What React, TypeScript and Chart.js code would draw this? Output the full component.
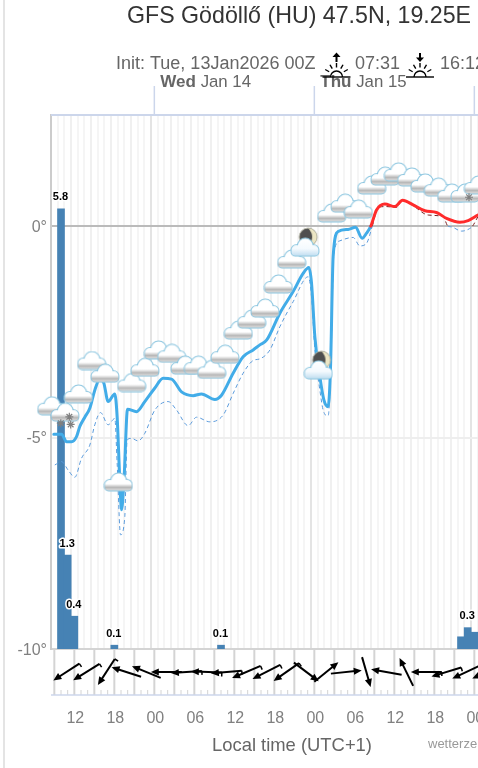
import React, { useEffect, useRef } from "react";
import { Chart, registerables } from "chart.js";
Chart.register(...registerables);

const FONT = '"Liberation Sans", Arial, sans-serif';

const tempHours = [-15.08,-13.92,-13.17,-12.42,-11.67,-11.18,-10.43,-9.68,-8.93,-8.18,-7.58,-6.93,-5.93,-5.58,-5.18,-4.92,-4.53,-4.02,-2.67,-1.43,0.08,1.32,2.58,4.08,5.82,7.08,9.08,10.08,11.82,13.32,14.82,15.83,16.83,18.83,20.82,22.32,23.18,23.58,24.08,24.83,25.43,26.07,26.43,26.82,27.57,29.07,30.18,31.17,31.83,32.47,33.33,34.58,36.08,37.23,38.82,40.58,42.33,43.83,45.83,47.07,48.53];
const tempValues = [-4.92,-4.92,-5.10,-5.10,-4.98,-4.74,-4.52,-4.31,-3.88,-3.62,-3.71,-4.15,-3.97,-4.51,-6.00,-6.71,-5.93,-4.33,-4.39,-4.15,-3.83,-3.60,-3.62,-3.92,-4.01,-3.97,-4.10,-4.00,-3.48,-3.09,-2.93,-2.81,-2.70,-2.06,-1.55,-1.12,-0.98,-1.35,-2.62,-3.56,-4.11,-4.27,-3.33,-0.73,-0.13,-0.08,-0.03,-0.29,-0.17,0,0.38,0.52,0.46,0.61,0.50,0.36,0.32,0.18,0.09,0.13,0.26];

const lowHours = [-14.93,-13.92,-12.93,-11.93,-10.92,-9.68,-8.93,-8.07,-6.93,-5.93,-5.58,-5.07,-4.43,-4.08,-3.42,-2.43,-1.43,0.08,2.07,3.33,5.07,6.33,8.33,10.32,11.82,13.32,14.82,15.83,17.33,18.83,20.82,23.07,23.58,24.08,24.83,25.32,26.07,26.43,26.93,27.83,29.82,30.83,31.83,32.7,33.57,34.83,36.33,37.23,38.82,41.07,43.32,44.03,44.58,46.08,47.58,47.75,48.53];
const lowValues = [-5.65,-5.57,-5.77,-5.94,-5.49,-5.18,-4.70,-4.41,-4.70,-4.55,-5.60,-7.30,-6.87,-5.06,-5.02,-5.08,-4.90,-4.35,-4.15,-4.35,-4.72,-4.52,-4.63,-4.47,-3.96,-3.48,-3.18,-3.14,-2.93,-2.38,-1.79,-1.20,-1.67,-2.93,-3.88,-4.35,-4.49,-3.56,-0.65,-0.35,-0.27,-0.47,-0.41,0,0.44,0.46,0.44,0.61,0.48,0.26,0.22,0,-0.02,-0.12,-0.03,0,0.22];

const rainHours = [-14,-13,-12,-6,10,46,47,48];
const rainValues = [5.77,1.23,0.43,0.05,0.05,0.16,0.28,0.22];
const rainLabels = ["5.8","1.3","0.4","0.1","0.1","","0.3",""];

const cloudHours = [-15.4,-13.4,-11.4,-9.4,-7.4,-5.4,-3.4,-1.4,0.6,2.6,4.6,6.6,8.6,10.6,12.6,14.6,16.6,18.6,20.6,22.6,24.6,26.6,28.6,30.6,32.6,34.6,36.6,38.6,40.6,42.6,44.6,46.6,48.6];
const cloudLevels = [-4.25,-4.40,-3.97,-3.18,-3.48,-6.05,-3.70,-3.34,-2.93,-3.01,-3.29,-3.29,-3.39,-3.03,-2.46,-2.20,-1.94,-1.37,-0.78,-0.50,-3.40,0.31,0.54,0.40,0.97,1.18,1.28,1.16,1.02,0.92,0.78,0.78,0.97];
const nightCloudHours = [22.6,24.6];

const moonHours = [23.07,25.07];
const moonLevels = [-0.26,-3.17];

const snowHours = [-14.03,-12.75,-12.55,47.2];
const snowLevels = [-4.66,-4.51,-4.69,0.68];

const windHours = [-13.2,-10.2,-7.2,-4.2,-1.2,1.8,4.8,7.8,10.8,13.8,16.8,19.8,22.8,25.8,28.8,31.8,34.8,37.8,40.8,43.8,46.8,49.8];
const windAngles = [147,148,123,198,202,180,176,182,175,157,153,145,37,-39,-6,74,190,244,180,163,155,155];
const windBarbs = [1,1,1,0,0,0,1,1,1,1,1,1,0,0,0,0,0,0,1,1,0,0];

const dayHours = [0,24,48];
const dayNames = ["Wed","Thu","Fri"];
const dayDates = ["Jan 14","Jan 15","Jan 16"];

const titleText = "GFS Gödöllő (HU) 47.5N, 19.25E";
const initText = "Init: Tue, 13Jan2026 00Z";
const sunriseText = "07:31";
const sunsetText = "16:12";
const xTitleText = "Local time (UTC+1)";
const creditText = "wetterzentrale.de";

function cloudPath(g: CanvasRenderingContext2D) {
  g.beginPath();
  g.arc(6.5, 13, 5, 0, Math.PI * 2);
  g.closePath();
  g.moveTo(22.8, 9);
  g.arc(15.3, 9, 7.5, 0, Math.PI * 2);
  g.closePath();
  g.moveTo(28.5, 13);
  g.arc(23.5, 13, 5, 0, Math.PI * 2);
  g.closePath();
  g.moveTo(5, 11);
  g.roundRect(1.5, 11, 27, 7.5, 3.7);
}

function makeCloud(night: boolean) {
  const c = document.createElement("canvas");
  c.width = 30;
  c.height = 20;
  const g = c.getContext("2d")!;
  g.lineJoin = "round";
  g.strokeStyle = "#8cc6e0";
  g.lineWidth = 2;
  cloudPath(g);
  g.stroke();
  const grad = g.createLinearGradient(0, 2, 0, 18);
  if (night) {
    grad.addColorStop(0, "#ffffff");
    grad.addColorStop(0.6, "#f4fafe");
    grad.addColorStop(1, "#c6e1f2");
  } else {
    grad.addColorStop(0, "#ffffff");
    grad.addColorStop(0.62, "#ffffff");
    grad.addColorStop(0.84, "#b8b8b8");
    grad.addColorStop(1, "#d8d8d8");
  }
  g.fillStyle = grad;
  cloudPath(g);
  g.fill();
  return c;
}

function makeMoon() {
  const c = document.createElement("canvas");
  c.width = 22;
  c.height = 22;
  const g = c.getContext("2d")!;
  g.fillStyle = "#4f4f4f";
  g.beginPath();
  g.arc(11, 11, 9, 0, Math.PI * 2);
  g.fill();
  g.fillStyle = "#ece6c4";
  g.beginPath();
  g.arc(11, 11, 9, -Math.PI / 2, Math.PI / 2);
  g.quadraticCurveTo(19, 11, 11, 2);
  g.fill();
  g.strokeStyle = "#b5b5a5";
  g.lineWidth = 1;
  g.beginPath();
  g.arc(11, 11, 9, 0, Math.PI * 2);
  g.stroke();
  return c;
}

function sunIcon(ctx: CanvasRenderingContext2D, cx: number, up: boolean) {
  const base = 77;
  ctx.save();
  ctx.strokeStyle = "#000";
  ctx.fillStyle = "#000";
  ctx.lineWidth = 1.4;
  ctx.beginPath();
  ctx.moveTo(cx - 14, base);
  ctx.lineTo(cx + 14, base);
  ctx.stroke();
  ctx.beginPath();
  ctx.arc(cx, base, 6, Math.PI, 0);
  ctx.stroke();
  [-150, -120, -90, -60, -30].forEach((a) => {
    const r = (a * Math.PI) / 180;
    ctx.beginPath();
    ctx.moveTo(cx + Math.cos(r) * 8.5, base - 1 + Math.sin(r) * 8.5);
    ctx.lineTo(cx + Math.cos(r) * 13, base - 1 + Math.sin(r) * 13);
    ctx.stroke();
  });
  ctx.lineWidth = 2;
  ctx.beginPath();
  ctx.moveTo(cx, up ? 56 : 53);
  ctx.lineTo(cx, up ? 62 : 58);
  ctx.stroke();
  ctx.beginPath();
  if (up) {
    ctx.moveTo(cx, 52.5);
    ctx.lineTo(cx + 4, 57);
    ctx.lineTo(cx - 4, 57);
  } else {
    ctx.moveTo(cx, 62);
    ctx.lineTo(cx + 4, 57.5);
    ctx.lineTo(cx - 4, 57.5);
  }
  ctx.closePath();
  ctx.fill();
  ctx.restore();
}

const decorations = {
  id: "decorations",
  beforeDatasetsDraw(chart: any) {
    const { ctx, scales, chartArea } = chart;
    const x = scales.x;
    ctx.save();
    // wind strip grid
    const stripBottom = 695;
    for (let h = -15; h <= 57; h++) {
      const px = x.getPixelForValue(h);
      ctx.strokeStyle = "#d4d4d4";
      if (h % 3 === 0) {
        ctx.lineWidth = 2;
        ctx.beginPath();
        ctx.moveTo(px, chartArea.bottom);
        ctx.lineTo(px, stripBottom);
        ctx.stroke();
      } else {
        ctx.lineWidth = 1;
        ctx.beginPath();
        ctx.moveTo(px, stripBottom - 5);
        ctx.lineTo(px, stripBottom);
        ctx.stroke();
      }
    }
    ctx.strokeStyle = "#ccd6eb";
    ctx.lineWidth = 1.5;
    ctx.beginPath();
    ctx.moveTo(chartArea.left, stripBottom);
    ctx.lineTo(chartArea.right, stripBottom);
    ctx.stroke();
    // top axis
    ctx.lineWidth = 2;
    ctx.beginPath();
    ctx.moveTo(chartArea.left, chartArea.top);
    ctx.lineTo(chartArea.right, chartArea.top);
    ctx.stroke();
    ctx.lineWidth = 1.5;
    dayHours.forEach((h) => {
      const px = x.getPixelForValue(h);
      ctx.beginPath();
      ctx.moveTo(px, 86);
      ctx.lineTo(px, chartArea.top);
      ctx.stroke();
    });
    ctx.restore();
  },
  afterDraw(chart: any) {
    const { ctx, scales } = chart;
    const x = scales.x;
    ctx.save();
    // header text
    ctx.textBaseline = "middle";
    ctx.textAlign = "left";
    ctx.fillStyle = "#666666";
    ctx.font = `18px ${FONT}`;
    ctx.fillText(initText, 116, 64);
    ctx.fillText(sunriseText, 355, 64);
    ctx.fillText(sunsetText, 440, 64);
    dayHours.forEach((h, i) => {
      const px = x.getPixelForValue(h) + 6;
      ctx.fillStyle = "#666666";
      ctx.font = `bold 17px ${FONT}`;
      ctx.fillText(dayNames[i], px, 82);
      const w = ctx.measureText(dayNames[i] + " ").width;
      ctx.font = `16.8px ${FONT}`;
      ctx.fillText(dayDates[i], px + w, 82);
    });
    sunIcon(ctx, 336.5, true);
    sunIcon(ctx, 420, false);
    // credit
    ctx.fillStyle = "#999999";
    ctx.font = `13px ${FONT}`;
    ctx.fillText(creditText, 428, 744);
    // wind arrows
    const cy = 672;
    const len = 31;
    windHours.forEach((h, i) => {
      const cx = x.getPixelForValue(h);
      const a = (windAngles[i] * Math.PI) / 180;
      const ux = Math.cos(a);
      const uy = Math.sin(a);
      const tx = cx - (ux * len) / 2;
      const ty = cy - (uy * len) / 2;
      const hx = cx + (ux * len) / 2;
      const hy = cy + (uy * len) / 2;
      ctx.strokeStyle = "#000";
      ctx.fillStyle = "#000";
      ctx.lineWidth = 2;
      ctx.beginPath();
      ctx.moveTo(tx, ty);
      ctx.lineTo(hx - ux * 4, hy - uy * 4);
      ctx.stroke();
      ctx.beginPath();
      ctx.moveTo(hx, hy);
      ctx.lineTo(hx - ux * 8 - uy * 3.6, hy - uy * 8 + ux * 3.6);
      ctx.lineTo(hx - ux * 8 + uy * 3.6, hy - uy * 8 - ux * 3.6);
      ctx.closePath();
      ctx.fill();
      if (windBarbs[i]) {
        ctx.lineWidth = 1.5;
        const sign = ux < 0 ? -1 : 1;
        ctx.beginPath();
        ctx.moveTo(tx, ty);
        ctx.lineTo(tx - uy * 4 * sign, ty + ux * 4 * sign);
        ctx.stroke();
      }
    });
    // bar labels
    const meta = chart.getDatasetMeta(chart.data.datasets.findIndex((d: any) => d.label === "Precipitation"));
    ctx.font = `bold 11px ${FONT}`;
    ctx.textAlign = "center";
    ctx.lineJoin = "round";
    rainLabels.forEach((t, i) => {
      if (!t) return;
      const el = meta.data[i];
      const px = el.x - 0.5;
      const py = el.y - 11.5;
      ctx.strokeStyle = "#ffffff";
      ctx.lineWidth = 3;
      ctx.strokeText(t, px, py);
      ctx.fillStyle = "#000000";
      ctx.fillText(t, px, py);
    });
    ctx.restore();
  },
};

export default function App() {
  const ref = useRef<HTMLCanvasElement>(null);
  useEffect(() => {
    const cloud = makeCloud(false);
    const nightCloud = makeCloud(true);
    const moon = makeMoon();
    const xy = (xs: number[], ys: number[]) => xs.map((x, i) => ({ x, y: ys[i] }));
    const chart = new Chart(ref.current!, {
      type: "line",
      plugins: [decorations],
      data: {
        datasets: [
          {
            type: "line",
            label: "Snow",
            data: xy(snowHours, snowLevels),
            showLine: false,
            order: -1,
            pointRadius: 4,
            pointStyle: "star",
            borderColor: "#808080",
            borderWidth: 1.2,
          },
          {
            type: "line",
            label: "Clouds",
            data: xy(cloudHours, cloudLevels),
            showLine: false,
            order: 0,
            pointRadius: 14,
            pointStyle: (c: any) => (nightCloudHours.includes(cloudHours[c.dataIndex]) ? nightCloud : cloud),
            clip: false,
          },
          {
            type: "line",
            label: "Moon",
            data: xy(moonHours, moonLevels),
            showLine: false,
            order: 1,
            pointRadius: 10,
            pointStyle: moon,
          },
          {
            type: "line",
            label: "Temperature",
            data: xy(tempHours, tempValues),
            order: 2,
            borderWidth: 3,
            borderColor: "#42ace8",
            pointRadius: 0,
            cubicInterpolationMode: "monotone",
            borderCapStyle: "round",
            segment: {
              borderColor: (c: any) => (c.p0.parsed.y >= 0 && c.p1.parsed.y >= 0 ? "#ff2b2b" : "#42ace8"),
            },
          },
          {
            type: "line",
            label: "Dew point",
            data: xy(lowHours, lowValues),
            order: 3,
            borderWidth: 1,
            borderDash: [4, 3],
            borderColor: "#5b9bdc",
            pointRadius: 0,
            cubicInterpolationMode: "monotone",
            segment: {
              borderColor: (c: any) => (c.p0.parsed.y >= 0 && c.p1.parsed.y >= 0 ? "#7a1f1f" : "#5b9bdc"),
            },
          },
          {
            type: "bar",
            label: "Precipitation",
            data: xy(rainHours, rainValues),
            yAxisID: "yRain",
            order: 6,
            backgroundColor: "#4682b4",
            barThickness: 7,
            grouped: false,
          },
        ],
      } as any,
      options: {
        responsive: false,
        animation: false,
        events: [],
        layout: { autoPadding: false, padding: 0 },
        plugins: {
          legend: { display: false },
          tooltip: { enabled: false },
          title: {
            display: true,
            text: titleText,
            color: "#333333",
            font: { family: FONT, size: 23.2, weight: "normal" },
            padding: { top: 3, bottom: 84.2 },
          },
        },
        scales: {
          x: {
            type: "linear",
            min: -15.5,
            max: 56.8,
            offset: false,
            afterBuildTicks(s: any) {
              const t = [];
              for (let h = -15; h <= 56; h++) t.push({ value: h });
              s.ticks = t;
            },
            afterFit(s: any) {
              s.height = 119;
            },
            border: { display: false },
            grid: {
              drawTicks: true,
              tickLength: 60,
              tickColor: "transparent",
              lineWidth: 2,
              color: (c: any) => {
                const v = c.tick?.value;
                if (v % 24 === 0) return "#e4e4e4";
                if (v % 3 === 0) return "#f0f0f0";
                return "#f5f5f5";
              },
            },
            ticks: {
              autoSkip: false,
              maxRotation: 0,
              padding: 0,
              labelOffset: 1,
              color: "#808080",
              font: { family: FONT, size: 16 },
              callback: (v: any) => {
                const n = Number(v);
                if (n % 6 !== 0) return "";
                return String(((n % 24) + 24) % 24).padStart(2, "0");
              },
            },
            title: {
              display: true,
              text: xTitleText,
              color: "#666666",
              font: { family: FONT, size: 18.4 },
              padding: { top: 0, bottom: 11 },
            },
          },
          y: {
            type: "linear",
            axis: "y",
            min: -10,
            max: 2.624,
            afterBuildTicks(s: any) {
              s.ticks = [{ value: -10 }, { value: -5 }, { value: 0 }];
            },
            afterFit(s: any) {
              s.width = 51;
            },
            border: { display: true, color: "#cccccc", width: 2 },
            grid: {
              drawTicks: false,
              lineWidth: 2,
              color: (c: any) => {
                const v = c.tick?.value;
                if (v === 0) return "#bbbbbb";
                if (v === -10) return "#d4d4d4";
                return "#eeeeee";
              },
            },
            ticks: {
              padding: 4,
              labelOffset: 1.5,
              color: "#808080",
              font: { family: FONT, size: 16 },
              callback: (v: any) => `${v}°`,
            },
          },
          yRain: {
            type: "linear",
            axis: "y",
            position: "right",
            display: true,
            min: 0,
            max: 7,
            afterFit(s: any) {
              s.width = 65;
            },
            border: { display: false },
            grid: { display: false, drawTicks: false },
            ticks: { display: false },
          },
        },
      } as any,
    });
    return () => chart.destroy();
  }, []);
  return (
    <div style={{ position: "fixed", left: 0, top: 0, width: 478, height: 768, overflow: "hidden", background: "#fff" }}>
      <canvas ref={ref} width={598} height={768} style={{ display: "block", width: 598, height: 768 }} />
      <div style={{ position: "absolute", left: 3, top: 0, width: 2, height: 768, background: "#e4e4e4" }} />
    </div>
  );
}
